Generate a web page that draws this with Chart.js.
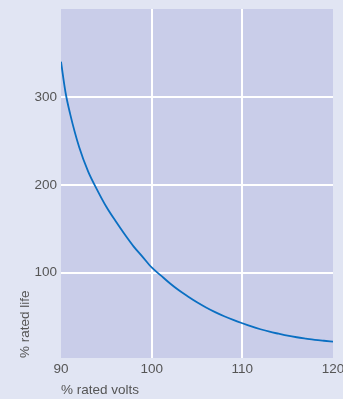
<!DOCTYPE html>
<html>
<head>
<meta charset="utf-8">
<script src="https://cdn.jsdelivr.net/npm/chart.js@4/dist/chart.umd.min.js"></script>
<style>
  html, body { margin: 0; padding: 0; background: #e1e5f3; }
  #wrap { width: 343px; height: 399px; }
</style>
</head>
<body>
<div id="wrap"><canvas id="c" width="343" height="399"></canvas></div>
<script>
// Lamp life as a percentage of rated life, versus supply voltage as % of rated volts
const volts = [90, 90.5, 91, 92, 93, 94, 95, 96, 97, 98, 99, 100, 101, 102, 103, 104, 105, 106, 107, 108, 109, 110, 111, 112, 113, 114, 115, 116, 117, 118, 119, 120];
const life  = [340, 305, 281, 243, 215, 194, 175, 159, 144, 130, 118, 106, 97, 88, 80, 73, 66.4, 60.5, 55.2, 50.5, 46.3, 42.5, 38.9, 35.7, 32.9, 30.6, 28.4, 26.6, 25.1, 23.7, 22.6, 21.6];
const xTicks = [90, 100, 110, 120];
const yTicks = [100, 200, 300];

const FONT = "'Liberation Sans', Arial, sans-serif";
const SIZE = 13.5;
const TEXT = '#555555';

const plotFill = {
  id: 'plotFill',
  beforeDraw(chart) {
    const { ctx, chartArea: a } = chart;
    ctx.save();
    ctx.fillStyle = '#e1e5f3';
    ctx.fillRect(0, 0, chart.width, chart.height);
    ctx.fillStyle = '#c9cde9';
    ctx.fillRect(a.left, a.top, a.right - a.left, a.bottom - a.top);
    ctx.restore();
  }
};

new Chart(document.getElementById('c'), {
  type: 'scatter',
  data: {
    datasets: [{
      data: volts.map((v, i) => ({ x: v, y: life[i] })),
      showLine: true,
      borderColor: '#0a6fc2',
      borderWidth: 1.8,
      pointRadius: 0,
      cubicInterpolationMode: 'monotone',
      fill: false
    }]
  },
  options: {
    responsive: false,
    animation: false,
    devicePixelRatio: 1,
    layout: { padding: { top: 9, right: 10, left: 0, bottom: 0 } },
    plugins: { legend: { display: false }, tooltip: { enabled: false } },
    scales: {
      x: {
        type: 'linear',
        min: 90, max: 120,
        afterBuildTicks(s) { s.ticks = xTicks.map(v => ({ value: v })); },
        afterFit(s) { s.height = 41; s.paddingLeft = 0; s.paddingRight = 0; },
        border: { display: false },
        grid: {
          drawTicks: false,
          lineWidth: 2,
          color: c => (c.tick && (c.tick.value === 100 || c.tick.value === 110)) ? '#ffffff' : 'rgba(0,0,0,0)'
        },
        ticks: { padding: 3, color: TEXT, font: { family: FONT, size: SIZE } },
        title: {
          display: true, text: '% rated volts', align: 'start',
          color: TEXT, font: { family: FONT, size: SIZE }, padding: { top: 0, bottom: 1 }
        }
      },
      y: {
        type: 'linear',
        min: 3, max: 400,
        afterBuildTicks(s) { s.ticks = yTicks.map(v => ({ value: v })); },
        afterFit(s) { s.width = 61; s.paddingTop = 0; s.paddingBottom = 0; },
        border: { display: false },
        grid: { drawTicks: false, lineWidth: 2, color: '#ffffff' },
        ticks: { padding: 4, color: TEXT, font: { family: FONT, size: SIZE } },
        title: {
          display: true, text: '% rated life', align: 'start',
          color: TEXT, font: { family: FONT, size: SIZE }, padding: { top: 17, bottom: 0 }
        }
      }
    }
  },
  plugins: [plotFill]
});
</script>
</body>
</html>
